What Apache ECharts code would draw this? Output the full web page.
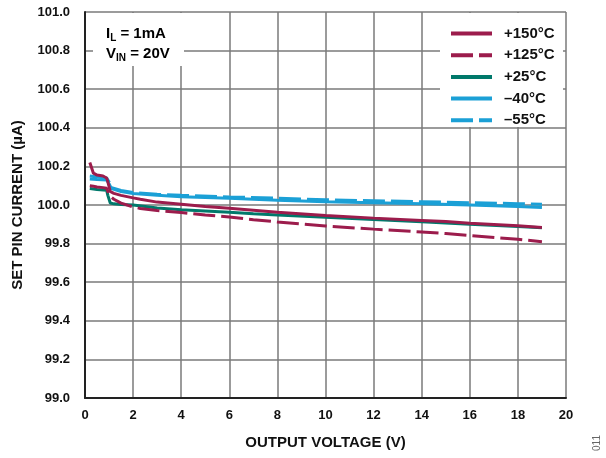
<!DOCTYPE html>
<html>
<head>
<meta charset="utf-8">
<script src="https://cdn.jsdelivr.net/npm/echarts@6/dist/echarts.min.js"></script>
<style>html,body{margin:0;padding:0;background:#fff}#c{width:606px;height:458px}</style>
</head>
<body>
<div id="c"></div>
<script>
// ---- data ----
var seriesNames = ['+150°C', '+125°C', '+25°C', '–40°C', '–55°C'];
var xTicks = [0, 2, 4, 6, 8, 10, 12, 14, 16, 18, 20];
var yTicks = [99.0, 99.2, 99.4, 99.6, 99.8, 100.0, 100.2, 100.4, 100.6, 100.8, 101.0];

var x150 = [0.2, 0.35, 0.5, 0.75, 0.9, 0.95, 1.05, 1.2, 1.5, 2, 2.3, 3, 4, 5, 6, 7, 8, 10, 12, 14, 15, 16, 18, 19];
var y150 = [100.22, 100.165, 100.155, 100.15, 100.14, 100.12, 100.07, 100.06, 100.05, 100.037, 100.03, 100.015, 100.004, 99.992, 99.983, 99.973, 99.963, 99.946, 99.932, 99.92, 99.914, 99.906, 99.892, 99.884];

var x125 = [0.2, 0.35, 0.5, 0.75, 0.9, 0.95, 1.05, 1.2, 1.5, 2, 2.3, 3, 4, 5, 6, 7, 8, 10, 12, 14, 15, 16, 18, 19];
var y125 = [100.10, 100.097, 100.093, 100.09, 100.087, 100.07, 100.045, 100.03, 100.01, 99.99, 99.982, 99.971, 99.961, 99.948, 99.938, 99.924, 99.912, 99.891, 99.875, 99.86, 99.852, 99.842, 99.822, 99.81];

var x25 = [0.2, 0.5, 0.9, 0.95, 1.05, 1.2, 1.5, 2, 3, 4, 5, 6, 7, 8, 10, 12, 14, 16, 18, 19];
var y25 = [100.085, 100.08, 100.077, 100.05, 100.01, 100.006, 100.003, 100.0, 99.985, 99.975, 99.969, 99.963, 99.955, 99.948, 99.936, 99.925, 99.913, 99.9, 99.888, 99.882];

var xm40 = [0.2, 0.5, 0.9, 1.0, 1.1, 1.5, 2, 3, 4, 6, 8, 10, 12, 14, 16, 18, 19];
var ym40 = [100.135, 100.132, 100.13, 100.11, 100.085, 100.07, 100.06, 100.05, 100.043, 100.035, 100.025, 100.017, 100.012, 100.007, 100.0, 99.992, 99.987];

var xm55 = [0.2, 0.5, 0.9, 1.0, 1.1, 1.5, 2, 3, 4, 6, 8, 10, 12, 14, 16, 18, 19];
var ym55 = [100.15, 100.145, 100.14, 100.12, 100.09, 100.075, 100.065, 100.056, 100.05, 100.042, 100.035, 100.027, 100.022, 100.017, 100.012, 100.007, 100.004];

function pairs(xs, ys) { return xs.map(function (x, i) { return [x, ys[i]]; }); }

var RED = '#9c1c4c', GREEN = '#00796b', BLUE = '#1ba0d6';
var FONT = '"Liberation Sans", Arial, sans-serif';

var chart = echarts.init(document.getElementById('c'), null, {renderer: 'canvas'});
function mk(name, xs, ys, color, dashed, z) {
  return {
    name: name, type: 'line', data: pairs(xs, ys), symbol: 'none', smooth: false,
    z: z, animation: false,
    lineStyle: {color: color, width: 3, type: dashed ? [22, 6] : 'solid'},
    itemStyle: {color: color}
  };
}
chart.setOption({
  animation: false,
  textStyle: {fontFamily: FONT},
  grid: {left: 85, right: 40, top: 12, bottom: 60, containLabel: false},
  xAxis: {
    type: 'value', min: xTicks[0], max: xTicks[xTicks.length - 1], interval: 2,
    name: 'OUTPUT VOLTAGE (V)', nameLocation: 'middle', nameGap: 37,
    nameTextStyle: {fontFamily: FONT, fontWeight: 'bold', fontSize: 15, color: '#111'},
    axisLine: {show: true, onZero: false, lineStyle: {color: '#222', width: 2}},
    axisTick: {show: false},
    axisLabel: {fontFamily: FONT, fontWeight: 'bold', fontSize: 13, color: '#111', margin: 11},
    splitLine: {show: true, lineStyle: {color: '#7a7a7a', width: 1.5}}
  },
  yAxis: {
    type: 'value', min: yTicks[0], max: yTicks[yTicks.length - 1], interval: 0.2,
    name: 'SET PIN CURRENT (µA)', nameLocation: 'middle', nameGap: 60,
    nameTextStyle: {fontFamily: FONT, fontWeight: 'bold', fontSize: 15, color: '#111'},
    axisLine: {show: true, onZero: false, lineStyle: {color: '#222', width: 2}},
    axisTick: {show: false},
    axisLabel: {fontFamily: FONT, fontWeight: 'bold', fontSize: 13, color: '#111', margin: 15,
      formatter: function (v) { return v.toFixed(1); }},
    splitLine: {show: true, lineStyle: {color: '#7a7a7a', width: 1.5}}
  },
  legend: {
    orient: 'vertical', left: 449, top: 26, padding: 0,
    itemWidth: 41, itemHeight: 14, itemGap: 6.7,
    data: seriesNames,
    itemStyle: {opacity: 0, borderWidth: 0},
    lineStyle: {width: 4},
    textStyle: {fontFamily: FONT, fontWeight: 'bold', fontSize: 15, color: '#111', padding: [0, 0, 0, 7], lineHeight: 14}
  },
  graphic: [
    {type: 'rect', z: 1, silent: true, shape: {x: 440, y: 13, width: 123, height: 114}, style: {fill: '#fff'}},
    {type: 'rect', z: 1, silent: true, shape: {x: 93, y: 13, width: 91, height: 53}, style: {fill: '#fff'}},
    {type: 'text', z: 5, left: 106, top: 26, style: {
      text: '{a|I}{s|L}{a| = 1mA}',
      rich: {a: {fontFamily: FONT, fontWeight: 'bold', fontSize: 15, color: '#111', lineHeight: 20, verticalAlign: 'middle'},
             s: {fontFamily: FONT, fontWeight: 'bold', fontSize: 10, color: '#111', lineHeight: 9, verticalAlign: 'bottom'}}}},
    {type: 'text', z: 5, left: 106, top: 46, style: {
      text: '{a|V}{s|IN}{a| = 20V}',
      rich: {a: {fontFamily: FONT, fontWeight: 'bold', fontSize: 15, color: '#111', lineHeight: 20, verticalAlign: 'middle'},
             s: {fontFamily: FONT, fontWeight: 'bold', fontSize: 10, color: '#111', lineHeight: 9, verticalAlign: 'bottom'}}}},
    {type: 'text', z: 5, x: 597, y: 443, rotation: Math.PI / 2, style: {
      text: '011', fontFamily: FONT, fontSize: 10, fill: '#666', align: 'center', verticalAlign: 'middle'}}
  ],
  series: [
    mk(seriesNames[0], x150, y150, RED, false, 7),
    mk(seriesNames[1], x125, y125, RED, true, 6),
    mk(seriesNames[2], x25, y25, GREEN, false, 3),
    mk(seriesNames[3], xm40, ym40, BLUE, false, 4),
    mk(seriesNames[4], xm55, ym55, BLUE, true, 5)
  ]
});
</script>
</body>
</html>
